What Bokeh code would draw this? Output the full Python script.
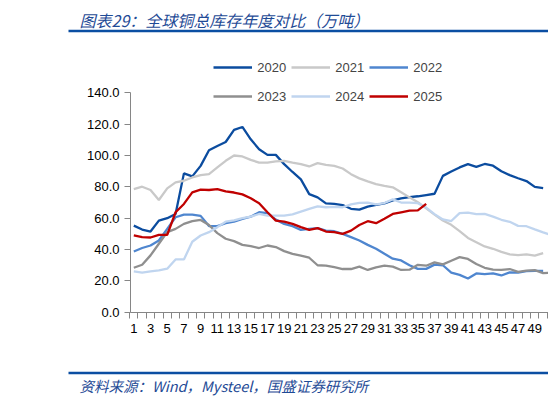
from bokeh.plotting import figure
from bokeh.models import Range1d, FixedTicker, NumeralTickFormatter, Legend, LegendItem, Label
from bokeh.embed import file_html
from bokeh.resources import INLINE

# weekly global copper inventory, 10k tonnes
weeks = list(range(1, 53))
years = ["2020", "2021", "2022", "2023", "2024", "2025"]

y2020 = [55.3, 52.8, 51.5, 58.5, 60.0, 62.7, 88.6, 86.7, 93.4, 103.4,
         106.1, 108.6, 116.3, 118.2, 110.3, 104.0, 100.4, 100.4, 94.5, 89.5,
         84.8, 75.4, 73.3, 69.5, 69.1, 68.4, 66.0, 65.5, 67.4, 68.5,
         69.5, 71.4, 72.7, 73.5, 74.0, 74.8, 75.6, 87.0, 89.8, 92.4,
         94.5, 92.8, 94.6, 93.5, 90.0, 87.5, 85.5, 83.7, 80.0, 79.2]
y2021 = [78.6, 80.1, 78.0, 71.6, 79.0, 82.9, 83.9, 86.0, 87.5, 88.1,
         92.4, 96.6, 100.0, 99.4, 97.2, 95.5, 95.5, 96.2, 96.6, 95.5,
         94.5, 93.0, 95.1, 94.0, 93.4, 91.7, 88.1, 85.4, 83.5, 81.8,
         80.7, 79.7, 76.5, 73.3, 70.2, 66.3, 62.3, 58.5, 55.8, 51.8,
         47.4, 44.7, 42.0, 40.5, 38.5, 37.0, 36.5, 36.9, 36.1, 37.7]
y2022 = [38.8, 41.0, 42.6, 45.8, 53.2, 60.6, 62.3, 62.3, 61.5, 55.0,
         55.0, 56.8, 57.8, 59.6, 61.0, 63.8, 63.2, 59.1, 56.4, 54.9,
         52.6, 53.2, 53.7, 52.1, 51.7, 50.0, 47.9, 45.8, 43.0, 40.5,
         37.3, 34.2, 33.1, 30.0, 27.7, 27.7, 30.4, 30.0, 25.3, 23.9,
         21.6, 24.8, 24.3, 24.8, 23.5, 25.5, 25.3, 26.2, 26.4, 26.4]
y2023 = [28.4, 30.3, 36.3, 43.7, 51.1, 53.2, 56.4, 58.1, 58.9, 55.7,
         50.5, 46.9, 45.4, 43.0, 42.2, 41.0, 42.6, 41.6, 39.0, 37.3,
         36.1, 34.8, 30.0, 29.8, 28.8, 27.6, 27.6, 29.1, 27.0, 28.7,
         29.7, 29.1, 27.0, 27.2, 30.3, 29.7, 31.8, 30.6, 32.9, 35.2,
         34.0, 30.8, 28.4, 27.2, 27.1, 27.6, 25.8, 26.6, 26.9, 25.0,
         25.3, 25.4]
y2024 = [26.1, 25.3, 26.1, 26.7, 27.8, 33.7, 33.7, 45.0, 49.0, 51.1,
         54.3, 57.8, 58.6, 60.0, 61.0, 62.7, 61.7, 61.7, 61.7, 62.5,
         64.2, 65.9, 67.6, 67.0, 67.2, 67.0, 68.8, 69.8, 70.0, 68.8,
         69.7, 72.0, 70.0, 70.0, 69.6, 66.8, 62.6, 59.2, 58.2, 63.3,
         63.6, 62.6, 62.8, 61.0, 59.0, 57.7, 55.1, 54.9, 52.9, 51.0,
         49.2, 47.5]
y2025 = [49.0, 47.9, 47.7, 49.4, 49.4, 63.8, 69.1, 76.5, 78.2, 78.0,
         78.6, 77.1, 76.4, 75.2, 72.7, 69.5, 63.8, 58.5, 57.8, 56.4,
         54.3, 52.6, 53.7, 51.5, 51.1, 50.0, 52.1, 55.7, 58.1, 56.8,
         59.6, 62.7, 63.8, 64.8, 65.0, 69.2]

series = [y2020, y2021, y2022, y2023, y2024, y2025]
colors = ["#0B4C9F", "#C9C9C9", "#4F86CF", "#8F8F8F", "#C0D5EF", "#C00000"]

y_ticks = [0, 20, 40, 60, 80, 100, 120, 140]
x_labels = list(range(1, 52, 2))

title_text = "图表29：全球铜总库存年度对比（万吨）"
source_text = "资料来源：Wind，Mysteel，国盛证券研究所"

blue = "#0B4EA2"
text_blue = "#1F4B96"
axis_gray = "#868686"
font = "Liberation Sans"

# the frame fills the whole page; axes sit at fixed spots inside it
W, H = 548, 404
week1_px, week_w = 133.3, 8.354   # page x of week 1, px per week
zero_px, unit_h = 311.8, 1.568    # page y of value 0, px per unit


def px(page_x):
    return 1 + (page_x - week1_px) / week_w


def py(page_y):
    return (zero_px - page_y) / unit_h


p = figure(width=W, height=H, x_range=Range1d(px(0), px(W)), y_range=Range1d(py(H), py(0)),
           output_backend="svg", toolbar_location=None, min_border=0)
p.outline_line_color = None
p.grid.visible = False

renderers = []
for ys, c in zip(series, colors):
    r = p.line(weeks[:len(ys)], ys, line_color=c, line_width=2.3)
    renderers.append(r)

xa = p.xaxis[0]
xa.fixed_location = 0
xa.bounds = (px(130), px(W))
xa.ticker = FixedTicker(ticks=x_labels, minor_ticks=[i + 0.5 for i in range(0, 53)])
xa.axis_line_color = axis_gray
xa.major_tick_line_color = None
xa.major_tick_in = 0
xa.major_tick_out = 6
xa.minor_tick_line_color = axis_gray
xa.minor_tick_in = 0
xa.minor_tick_out = 6
xa.major_label_standoff = 6
xa.major_label_text_font = font
xa.major_label_text_font_size = "13px"
xa.major_label_text_color = "#000000"

ya = p.yaxis[0]
ya.fixed_location = px(130)
ya.bounds = (0, 140)
ya.ticker = FixedTicker(ticks=y_ticks)
ya.formatter = NumeralTickFormatter(format="0.0")
ya.axis_line_color = axis_gray
ya.major_tick_line_color = axis_gray
ya.major_tick_in = 0
ya.major_tick_out = 6
ya.minor_tick_line_color = None
ya.major_label_standoff = 5
ya.major_label_text_font = font
ya.major_label_text_font_size = "13px"
ya.major_label_text_color = "#000000"

# two legend rows of three (location = bottom-left, from frame bottom-left)
for row, row_y in ((0, 67.3), (1, 96.0)):
    items = [LegendItem(label=years[i], renderers=[renderers[i]]) for i in range(row * 3, row * 3 + 3)]
    leg = Legend(items=items, location=(213.3, H - row_y - 10), orientation="horizontal",
                 padding=0, margin=0, spacing=5, glyph_width=39, glyph_height=20,
                 label_standoff=5, label_width=29, label_height=20,
                 label_text_font=font, label_text_font_size="13px",
                 border_line_color=None, background_fill_alpha=0)
    p.add_layout(leg)

# header and footer rules and texts
p.segment(x0=[px(68), px(68)], y0=[py(30.5), py(372.5)], x1=[px(W), px(W)], y1=[py(30.5), py(372.5)],
          line_color=blue, line_width=2.5)
p.add_layout(Label(x=px(79), y=py(19), text=title_text, text_baseline="middle",
                   text_font="Noto Sans CJK SC", text_font_style="italic",
                   text_font_size="16px", text_color=text_blue))
p.add_layout(Label(x=px(79), y=py(385), text=source_text, text_baseline="middle",
                   text_font="Noto Sans CJK SC", text_font_style="italic",
                   text_font_size="14.5px", text_color=text_blue))

open("out.html", "w").write(file_html(p, INLINE))
